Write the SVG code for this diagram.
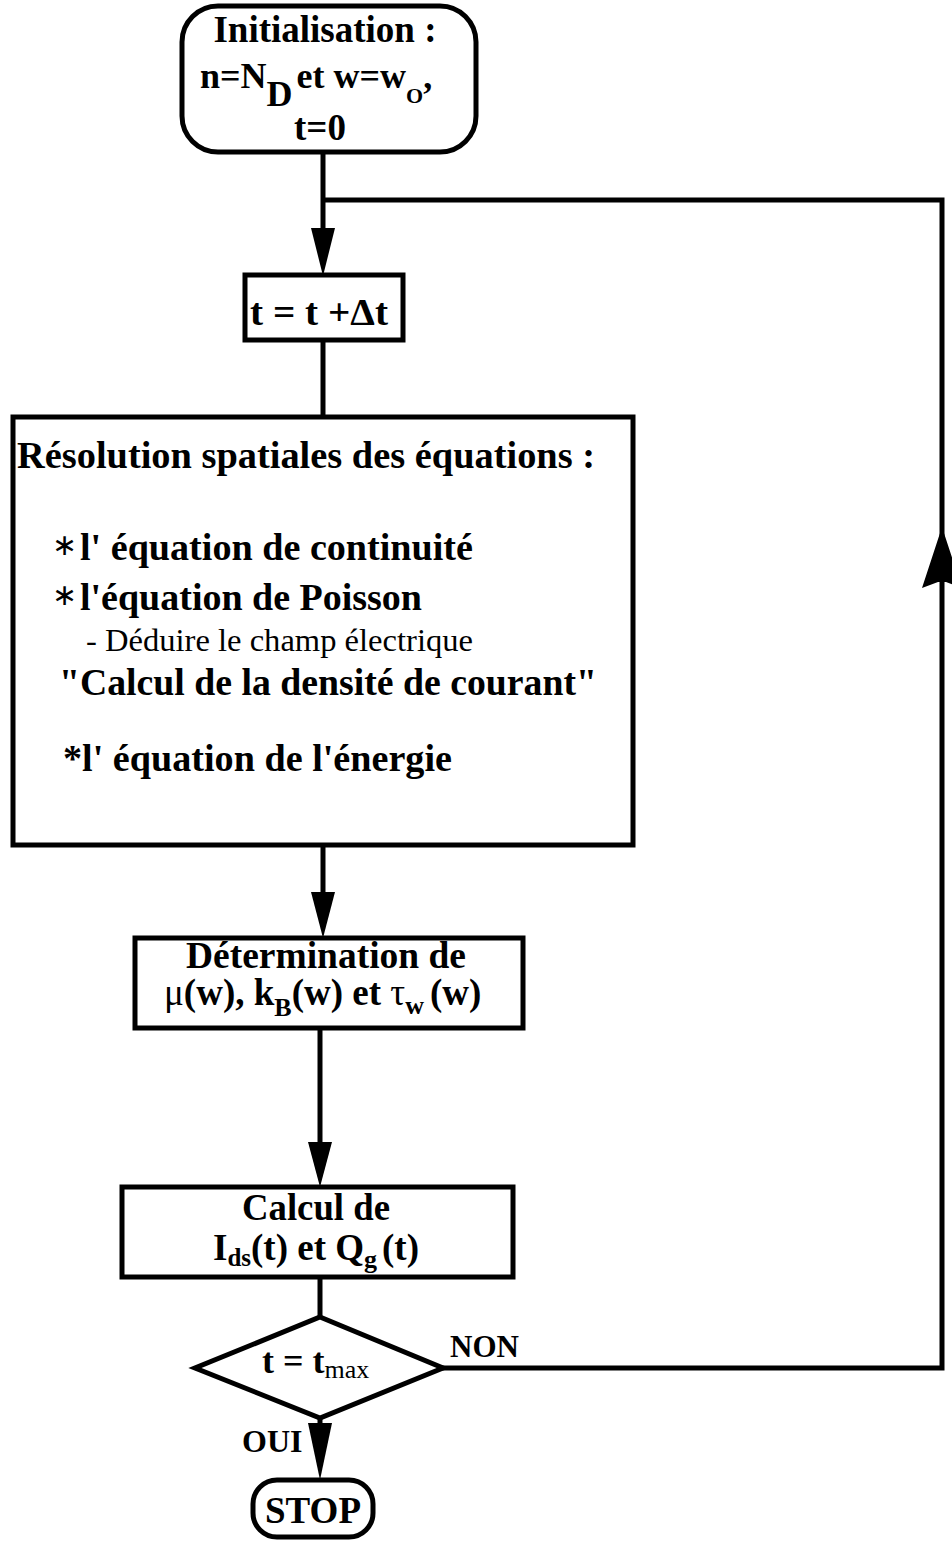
<svg xmlns="http://www.w3.org/2000/svg" width="952" height="1541" viewBox="0 0 952 1541">
<style>
.box{fill:#fff;stroke:#000;stroke-width:5}
.ln{fill:none;stroke:#000;stroke-width:5;stroke-linejoin:miter}
.ah{fill:#000;stroke:none}
text{font-family:"Liberation Serif","Times New Roman",serif;fill:#000}
.b{font-weight:bold}
.r{font-weight:normal}
.ast{font-weight:normal;font-size:30px}
</style>
<rect width="952" height="1541" fill="#fff"/>
<g id="connectors">
<path class="ln" d="M323,153 V232"/>
<polygon class="ah" points="311,228 335,228 323,276"/>
<path class="ln" d="M442,1368 H942 V200 H323"/>
<polygon class="ah" points="942,527 922,588 938,582 946,582 962,588"/>
<path class="ln" d="M323,340 V417"/>
<path class="ln" d="M323,845 V896"/>
<polygon class="ah" points="311,892 335,892 323,938"/>
<path class="ln" d="M320,1028 V1146"/>
<polygon class="ah" points="308,1142 332,1142 320,1187"/>
<path class="ln" d="M320,1277 V1317"/>
<path class="ln" d="M320,1417 V1428"/>
<polygon class="ah" points="308,1423 332,1423 320,1480"/>
<text class="b" x="450" y="1357" font-size="31">NON</text>
<text class="b" x="242" y="1452" font-size="32">OUI</text>
</g>
<g id="init">
<rect class="box" x="182" y="6" width="294" height="146" rx="36" ry="36"/>
<text class="b" x="325" y="42" font-size="37" text-anchor="middle">Initialisation :</text>
<text class="b" x="200" y="88" font-size="36">n=N<tspan dy="18">D</tspan><tspan dy="-18" dx="4">et w=w</tspan><tspan dy="15" font-size="22">O</tspan><tspan dy="-15">,</tspan></text>
<text class="b" x="320" y="140" font-size="37" text-anchor="middle">t=0</text>
</g>
<g id="step">
<rect class="box" x="245" y="275" width="158" height="65"/>
<text class="b" x="250" y="325" font-size="37" textLength="138" lengthAdjust="spacingAndGlyphs">t = t +Δt</text>
</g>
<g id="resolution">
<rect class="box" x="13" y="417" width="620" height="428"/>
<text class="b" x="17" y="468" font-size="38" textLength="578" lengthAdjust="spacingAndGlyphs">Résolution spatiales des équations :</text>
<text class="b" x="52" y="555" font-size="38"><tspan class="ast">∗</tspan><tspan x="80" y="560" textLength="393" lengthAdjust="spacingAndGlyphs">l' équation de continuité</tspan></text>
<text class="b" x="52" y="605" font-size="38"><tspan class="ast">∗</tspan><tspan x="80" y="610" textLength="342" lengthAdjust="spacingAndGlyphs">l'équation de Poisson</tspan></text>
<text class="r" x="86" y="651" font-size="32" textLength="387" lengthAdjust="spacingAndGlyphs">- Déduire le champ électrique</text>
<text class="b" x="59" y="695" font-size="38" textLength="538" lengthAdjust="spacingAndGlyphs">"Calcul de la densité de courant"</text>
<text class="b" x="63" y="771" font-size="38" textLength="389" lengthAdjust="spacingAndGlyphs">*l' équation de l'énergie</text>
</g>
<g id="determination">
<rect class="box" x="135" y="938" width="388" height="90"/>
<text class="b" x="186" y="968" font-size="37" textLength="280" lengthAdjust="spacingAndGlyphs">Détermination de</text>
<text class="b" x="164" y="1005" font-size="37"><tspan class="r">μ</tspan>(w), k<tspan dy="11" font-size="26">B</tspan><tspan dy="-11">(w) et </tspan><tspan class="r">τ</tspan><tspan dy="9" font-size="26">w</tspan><tspan dy="-9" dx="6">(w)</tspan></text>
</g>
<g id="calcul">
<rect class="box" x="122" y="1187" width="391" height="90"/>
<text class="b" x="242" y="1220" font-size="37" textLength="148" lengthAdjust="spacingAndGlyphs">Calcul de</text>
<text class="b" x="213" y="1260" font-size="37">I<tspan dy="6" font-size="25">ds</tspan><tspan dy="-6">(t) et Q</tspan><tspan dy="8" font-size="26">g</tspan><tspan dy="-8" dx="5">(t)</tspan></text>
</g>
<g id="decision">
<polygon class="box" points="320,1317 443,1368 320,1418 195,1368"/>
<text class="b" x="262" y="1373" font-size="36">t = t<tspan class="r" dy="5" font-size="26">max</tspan></text>
</g>
<g id="stop">
<rect class="box" x="253" y="1480" width="120" height="57" rx="24" ry="24"/>
<text class="b" x="313" y="1523" font-size="37" text-anchor="middle">STOP</text>
</g>
</svg>
